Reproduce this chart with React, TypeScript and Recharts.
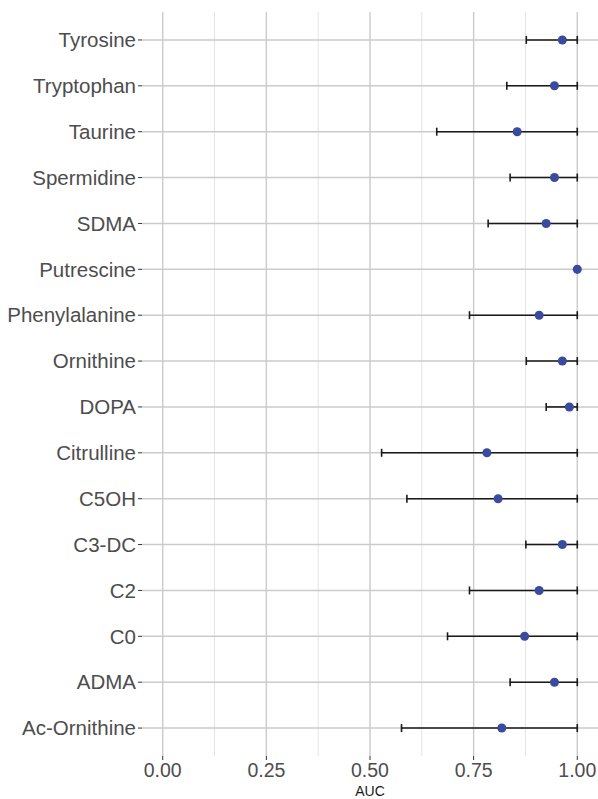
import { ScatterChart, Scatter, XAxis, YAxis, ZAxis, ErrorBar, ReferenceLine } from 'recharts';

const metabolites = [
  'Tyrosine', 'Tryptophan', 'Taurine', 'Spermidine', 'SDMA', 'Putrescine',
  'Phenylalanine', 'Ornithine', 'DOPA', 'Citrulline', 'C5OH', 'C3-DC',
  'C2', 'C0', 'ADMA', 'Ac-Ornithine',
];
const aucValues = [0.964, 0.945, 0.855, 0.945, 0.925, 1.0, 0.908, 0.964, 0.981, 0.782, 0.809, 0.964, 0.908, 0.873, 0.945, 0.818];
const ciLower = [0.877, 0.83, 0.661, 0.838, 0.785, 1.0, 0.74, 0.877, 0.925, 0.528, 0.589, 0.876, 0.74, 0.687, 0.838, 0.576];
const ciUpper = [1, 1, 1, 1, 1, 1, 1, 1, 1, 1, 1, 1, 1, 1, 1, 1];

const majorTicks = [0, 0.25, 0.5, 0.75, 1];
const minorTicks = [0.125, 0.375, 0.625, 0.875];

const data = metabolites.map((name, i) => ({
  name,
  auc: aucValues[i],
  ci: [aucValues[i] - ciLower[i], ciUpper[i] - aucValues[i]],
}));

const font = '"Liberation Sans", Arial, sans-serif';

export default function App() {
  return (
    <div style={{ position: 'absolute', left: 0, top: 0, background: '#fff' }}>
      <ScatterChart width={598} height={799} margin={{ top: 12, right: 0, bottom: 0, left: 0 }}>
        <XAxis
          type="number"
          dataKey="auc"
          domain={[-0.05, 1.05]}
          ticks={majorTicks}
          tickFormatter={(v: number) => v.toFixed(2)}
          allowDataOverflow
          axisLine={false}
          tickLine={{ stroke: '#333', strokeWidth: 1 }}
          tickSize={4}
          tickMargin={3}
          height={43}
          tick={{ fill: '#4d4d4d', fontSize: 19.5, fontFamily: font }}
          label={{ value: 'AUC', position: 'insideBottom', offset: 3, fill: '#1a1a1a', fontSize: 14, fontFamily: font }}
        />
        <YAxis
          type="category"
          dataKey="name"
          reversed
          width={142}
          axisLine={false}
          tickLine={{ stroke: '#333', strokeWidth: 1 }}
          tickSize={4}
          tickMargin={2}
          interval={0}
          padding={{ top: 5, bottom: 5 }}
          tick={{ fill: '#4d4d4d', fontSize: 20.5, fontFamily: font }}
        />
        <ZAxis type="number" range={[120, 120]} />
        {minorTicks.map((v) => (
          <ReferenceLine key={`minor-${v}`} x={v} stroke="#e4e4e4" strokeWidth={1} />
        ))}
        {majorTicks.map((v) => (
          <ReferenceLine key={`major-${v}`} x={v} stroke="#cbcbcb" strokeWidth={1.4} />
        ))}
        {metabolites.map((m) => (
          <ReferenceLine key={`row-${m}`} y={m} stroke="#cbcbcb" strokeWidth={1.4} />
        ))}
        <Scatter data={data} fill="#3a4a9c" isAnimationActive={false}>
          <ErrorBar dataKey="ci" direction="x" width={4} stroke="#1a1a1a" strokeWidth={1.6} />
        </Scatter>
      </ScatterChart>
    </div>
  );
}
